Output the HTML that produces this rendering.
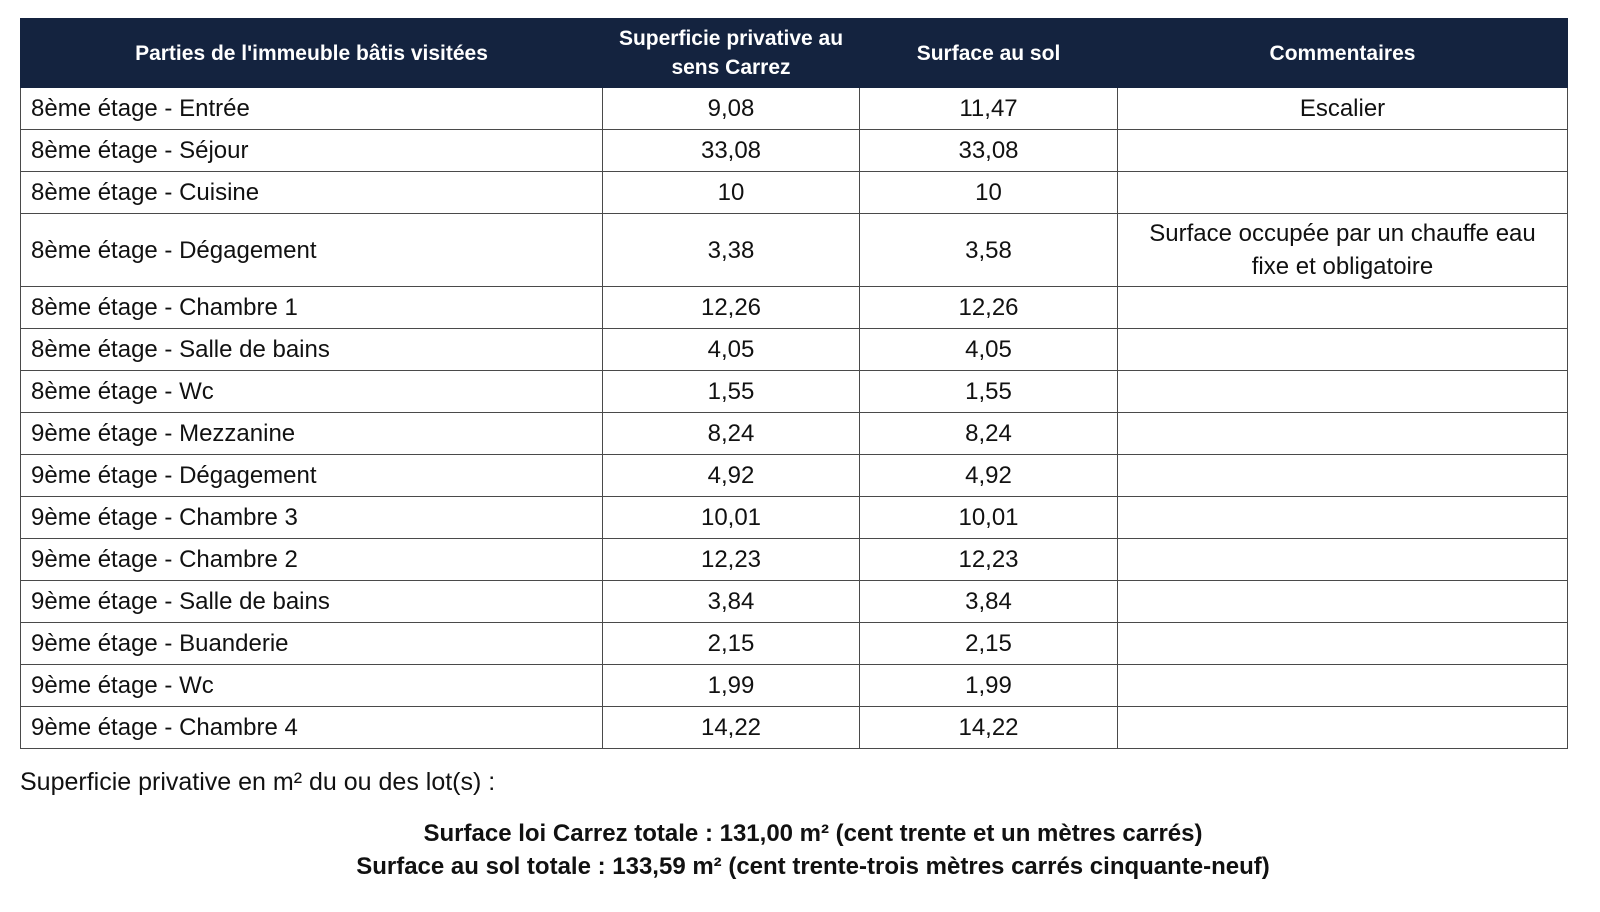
<!DOCTYPE html>
<html><head><meta charset="utf-8">
<style>
body{margin:0;width:1600px;height:912px;background:#fff;font-family:"Liberation Sans",sans-serif;position:relative;overflow:hidden;color:#111}
table{position:absolute;left:20px;top:18px;border-collapse:collapse;table-layout:fixed;width:1547px}
td,th{border:1.5px solid #4a4a4a;padding:0;font-size:24px;text-align:center;vertical-align:middle}
th{background:#14233f;color:#fff;font-size:21px;font-weight:bold;line-height:29px;height:68px;border-color:#14233f}
td{height:41px}
td.l{text-align:left;padding-left:10px}
tr.tall td{height:72px;line-height:33px}
.n{position:absolute;left:20px;top:768px;font-size:25px}
.t{position:absolute;left:0;width:1626px;text-align:center;font-weight:bold;font-size:24px}
</style></head><body>
<table>
<colgroup><col style="width:582px"><col style="width:257px"><col style="width:258px"><col style="width:450px"></colgroup>
<tr><th>Parties de l'immeuble bâtis visitées</th><th>Superficie privative au<br>sens Carrez</th><th>Surface au sol</th><th>Commentaires</th></tr>
<tr><td class="l">8ème étage - Entrée</td><td>9,08</td><td>11,47</td><td>Escalier</td></tr>
<tr><td class="l">8ème étage - Séjour</td><td>33,08</td><td>33,08</td><td></td></tr>
<tr><td class="l">8ème étage - Cuisine</td><td>10</td><td>10</td><td></td></tr>
<tr class="tall"><td class="l">8ème étage - Dégagement</td><td>3,38</td><td>3,58</td><td>Surface occupée par un chauffe eau<br>fixe et obligatoire</td></tr>
<tr><td class="l">8ème étage - Chambre 1</td><td>12,26</td><td>12,26</td><td></td></tr>
<tr><td class="l">8ème étage - Salle de bains</td><td>4,05</td><td>4,05</td><td></td></tr>
<tr><td class="l">8ème étage - Wc</td><td>1,55</td><td>1,55</td><td></td></tr>
<tr><td class="l">9ème étage - Mezzanine</td><td>8,24</td><td>8,24</td><td></td></tr>
<tr><td class="l">9ème étage - Dégagement</td><td>4,92</td><td>4,92</td><td></td></tr>
<tr><td class="l">9ème étage - Chambre 3</td><td>10,01</td><td>10,01</td><td></td></tr>
<tr><td class="l">9ème étage - Chambre 2</td><td>12,23</td><td>12,23</td><td></td></tr>
<tr><td class="l">9ème étage - Salle de bains</td><td>3,84</td><td>3,84</td><td></td></tr>
<tr><td class="l">9ème étage - Buanderie</td><td>2,15</td><td>2,15</td><td></td></tr>
<tr><td class="l">9ème étage - Wc</td><td>1,99</td><td>1,99</td><td></td></tr>
<tr><td class="l">9ème étage - Chambre 4</td><td>14,22</td><td>14,22</td><td></td></tr>
</table>
<div class="n">Superficie privative en m² du ou des lot(s) :</div>
<div class="t" style="top:820px">Surface loi Carrez totale : 131,00 m² (cent trente et un mètres carrés)</div>
<div class="t" style="top:853px">Surface au sol totale : 133,59 m² (cent trente-trois mètres carrés cinquante-neuf)</div>
</body></html>
